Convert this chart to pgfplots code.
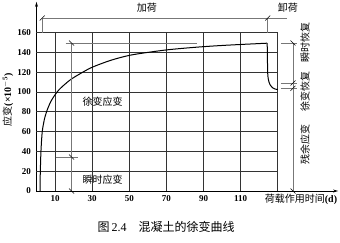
\documentclass[border=0pt]{standalone}
\usepackage{fontspec}
\setmainfont{Liberation Serif}
\newfontfamily\cjk{Noto Sans CJK SC}
\usepackage{pgfplots}
\pgfplotsset{compat=1.18}
\usetikzlibrary{arrows.meta}
\definecolor{gridc}{HTML}{333333}
\definecolor{annc}{HTML}{777777}
\begin{document}
\begin{tikzpicture}
\useasboundingbox (-36.5pt,-52pt) rectangle (303.5pt,191pt);
\begin{axis}[
  x=1.856pt, y=0.99pt,
  xmin=0, xmax=162.5, ymin=0, ymax=191,
  axis lines=left,
  axis line style={line width=0.8pt, -{Stealth[length=5pt,width=3pt]}},
  xtick={10,30,50,70,90,110},
  ytick={0,20,40,60,80,100,120,140,160},
  major tick length=0pt,
  /pgf/number format/assume math mode=true,
  tick label style={font=\fontsize{9}{9}\selectfont\bfseries},
  xticklabel style={yshift=-1pt},
  yticklabel style={xshift=-2pt},
  clip=false,
]
% grid
\pgfplotsinvokeforeach{10,30,50,70,90,110,130}{
  \draw[gridc, line width=0.7pt] (axis cs:#1,0) -- (axis cs:#1,160);
}
\pgfplotsinvokeforeach{20,40,60,80,100,120,140,160}{
  \draw[gridc, line width=0.7pt] (axis cs:0,#1) -- (axis cs:130,#1);
}
% creep curve
\addplot[black, line width=1pt, smooth, tension=0.5] coordinates {
 (1.9,0) (2.0,15) (2.4,40) (3.1,60) (4.2,72) (4.6,75) (6,83) (8.2,92)
 (12,102) (18,112) (24,119) (30,125) (40,132) (50,137) (60,140)
 (70,142.5) (80,144.3) (90,145.8) (100,147) (110,148) (124.3,149.3)
};
% unloading
\addplot[black, line width=1pt, smooth, tension=0.5] coordinates {
 (124.3,149.3) (124.45,130) (124.6,118) (125,112) (125.8,107.5)
 (127.2,104.3) (128.5,103) (130,102.5)
};
% loading bracket
\draw[annc, line width=0.6pt] (axis cs:3.1,160) -- (axis cs:3.1,174.7) -- (axis cs:135,174.7);
\draw[annc, line width=0.6pt] (axis cs:124.6,160) -- (axis cs:124.6,174.7);
\draw[black, line width=0.5pt] (axis cs:3.1,174.7) ++(-2.5pt,-2.5pt) -- ++(5pt,5pt);
\draw[black, line width=0.5pt] (axis cs:124.6,174.7) ++(-2.5pt,-2.5pt) -- ++(5pt,5pt);
% creep strain dimension
\draw[annc, line width=0.6pt] (axis cs:15.7,149.5) -- (axis cs:86.5,149.5);
\draw[annc, line width=0.6pt] (axis cs:10.5,34.3) -- (axis cs:22.4,34.3);
\draw[annc, line width=0.6pt] (axis cs:18.9,0) -- (axis cs:18.9,149.5);
\draw[black, line width=0.5pt] (axis cs:18.9,149.5) ++(-2.5pt,2.5pt) -- ++(5pt,-5pt);
\draw[black, line width=0.5pt] (axis cs:18.9,34.3) ++(-2.5pt,2.5pt) -- ++(5pt,-5pt);
\draw[black, line width=0.5pt] (axis cs:18.9,0) ++(-2.5pt,2.5pt) -- ++(5pt,-5pt);
% right dimension
\draw[annc, line width=0.6pt] (axis cs:131.7,149.5) -- (axis cs:140.4,149.5);
\draw[annc, line width=0.6pt] (axis cs:131.7,109.1) -- (axis cs:140.4,109.1);
\draw[annc, line width=0.6pt] (axis cs:131.7,103.7) -- (axis cs:140.4,103.7);
\draw[annc, line width=0.6pt] (axis cs:138.2,0) -- (axis cs:138.2,149.5);
\draw[black, line width=0.5pt] (axis cs:138.2,149.5) ++(-2.5pt,2.5pt) -- ++(5pt,-5pt);
\draw[black, line width=0.5pt] (axis cs:138.2,109.1) ++(-2.5pt,-2.5pt) -- ++(5pt,5pt);
\draw[black, line width=0.5pt] (axis cs:138.2,103.7) ++(-2.5pt,-2.5pt) -- ++(5pt,5pt);
\draw[black, line width=0.5pt] (axis cs:138.2,0) ++(-2.5pt,2.5pt) -- ++(5pt,-5pt);
% labels
\node[font=\cjk\fontsize{10}{10}\selectfont] at (axis cs:59.5,185) {加荷};
\node[font=\cjk\fontsize{10}{10}\selectfont] at (axis cs:135.5,185) {卸荷};
\node[font=\cjk\fontsize{10}{10}\selectfont] at (axis cs:35.6,90) {徐变应变};
\node[font=\cjk\fontsize{10}{10}\selectfont] at (axis cs:35.6,11) {瞬时应变};
\node[font=\cjk\fontsize{10}{10}\selectfont, rotate=90] at (axis cs:144.7,150.5) {瞬时恢复};
\node[font=\cjk\fontsize{10}{10}\selectfont, rotate=90] at (axis cs:144.7,101) {徐变恢复};
\node[font=\cjk\fontsize{10}{10}\selectfont, rotate=90] at (axis cs:144.7,46.5) {残余应变};
\node[font=\fontsize{10}{10}\selectfont] at (axis cs:142.5,-8) {{\cjk 荷载作用时间}\textbf{(d)}};
\node[font=\fontsize{10}{10}\selectfont, rotate=90] at (axis cs:-15.4,92) {{\cjk 应变}\textbf{(×10\textsuperscript{$-$5})}};
\node[font=\fontsize{12}{12}\selectfont] at (axis cs:69.8,-36.4) {{\cjk 图}\,2.4\quad{\cjk 混凝土的徐变曲线}};
\end{axis}
\end{tikzpicture}
\end{document}
